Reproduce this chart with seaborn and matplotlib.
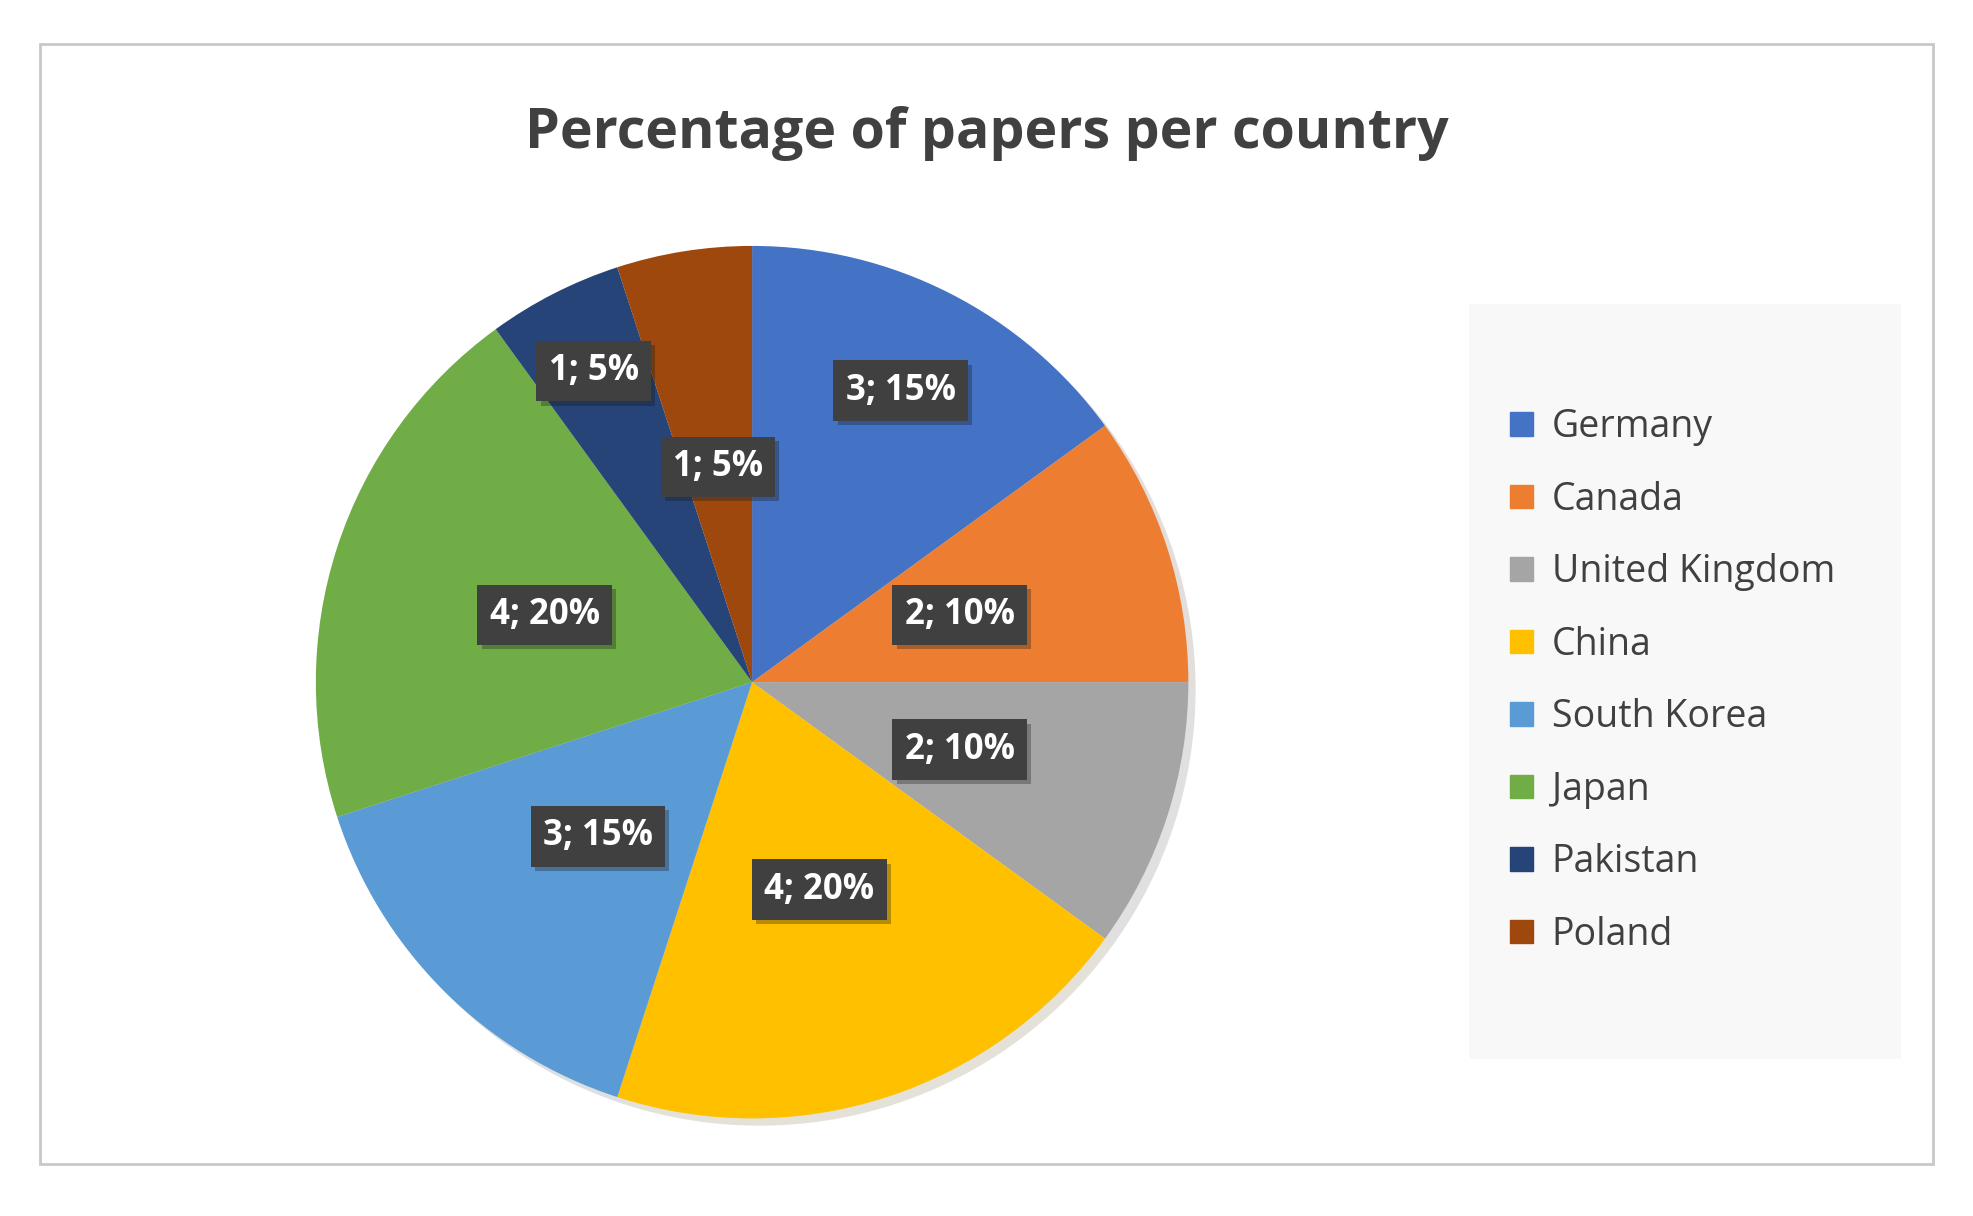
import matplotlib
matplotlib.use("Agg")
import matplotlib.pyplot as plt
import matplotlib.patches as mpatches
import matplotlib.patheffects as pe
import numpy as np
import seaborn as sns

countries = ["Germany", "Canada", "United Kingdom", "China", "South Korea", "Japan", "Pakistan", "Poland"]
counts = [3, 2, 2, 4, 3, 4, 1, 1]
colors = ["#4472C4", "#ED7D31", "#A5A5A5", "#FFC000", "#5B9BD5", "#70AD47", "#264478", "#9E480E"]
label_radius = [0.75, 0.5, 0.5, 0.5, 0.5, 0.5, 0.8, 0.5]

sns.set_theme(style="white")
plt.rcParams['font.family'] = ['Open Sans', 'DejaVu Sans']

fig = plt.figure(figsize=(19.74, 12.16), dpi=100)
fig.patch.set_facecolor("white")
fig.patches.append(mpatches.Rectangle((0.0205, 0.043), 0.9585, 0.921, transform=fig.transFigure,
                                      fill=False, edgecolor="#C8C8C8", linewidth=2))
fig.text(0.5, 0.89, "Percentage of papers per country", ha="center", va="center",
         fontsize=40, fontweight="bold", color="#404040")

ax = fig.add_axes([0.160, 0.08, 0.442, 0.718])
wedges, _ = ax.pie(counts, colors=colors, startangle=90, counterclock=False,
                   wedgeprops=dict(linewidth=0),
                   shadow=dict(ox=0.012, oy=-0.012, alpha=0.15))
ax.set_xlim(-1, 1); ax.set_ylim(-1, 1); ax.set_aspect("equal")
total = sum(counts)
for w, c, r in zip(wedges, counts, label_radius):
    th = np.deg2rad((w.theta1 + w.theta2) / 2)
    ax.text(r * np.cos(th), r * np.sin(th), f"{c}; {round(100*c/total)}%",
            ha="center", va="center", fontsize=25, fontweight="bold", color="white",
            bbox=dict(boxstyle="square,pad=0.35", facecolor="#404040", edgecolor="none",
                      path_effects=[pe.withSimplePatchShadow(offset=(3, -3), alpha=0.3)]))

fig.patches.append(mpatches.Rectangle((0.744, 0.129), 0.219, 0.621, transform=fig.transFigure,
                                      facecolor="#F8F8F8", edgecolor="none"))
handles = [mpatches.Patch(color=col, label=n) for col, n in zip(colors, countries)]
fig.legend(handles=handles, loc="center left", bbox_to_anchor=(0.748, 0.44),
           frameon=False, fontsize=27, labelspacing=0.92, handlelength=0.6,
           handleheight=0.6, handletextpad=0.5, labelcolor="#404040")

fig.savefig("out.png", dpi=100)
